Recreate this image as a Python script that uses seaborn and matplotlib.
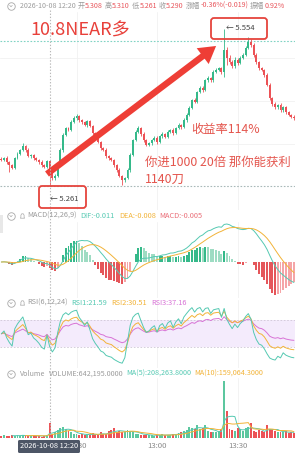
import numpy as np
import pandas as pd
import matplotlib
matplotlib.use("Agg")
import matplotlib.pyplot as plt
import seaborn as sns
from matplotlib.patches import FancyBboxPatch, Rectangle, Polygon

sns.set_theme(style="white")
plt.rcParams["font.family"] = ["Noto Sans CJK SC", "DejaVu Sans"]
plt.rcParams["axes.unicode_minus"] = False

# ---------------- data (1-minute candles from 12:02) ----------------
first_minute = 2          # minutes after 12:00
first_open = 5.312
close = [
    5.310, 5.313, 5.306, 5.300, 5.295, 5.313, 5.321, 5.328, 5.336, 5.328,
    5.317, 5.319, 5.313, 5.310, 5.306, 5.300, 5.297, 5.308, 5.290, 5.276,
    5.280, 5.300, 5.328, 5.356, 5.369, 5.366, 5.380, 5.388, 5.392, 5.384,
    5.380, 5.375, 5.382, 5.373, 5.360, 5.351, 5.343, 5.332, 5.328, 5.317,
    5.313, 5.310, 5.300, 5.291, 5.280, 5.272, 5.276, 5.291, 5.319, 5.347,
    5.362, 5.369, 5.358, 5.347, 5.338, 5.341, 5.347, 5.351, 5.343, 5.354,
    5.358, 5.353, 5.362, 5.366, 5.360, 5.369, 5.375, 5.371, 5.384, 5.394,
    5.407, 5.422, 5.418, 5.436, 5.444, 5.440, 5.459, 5.463, 5.458, 5.474,
    5.478, 5.481, 5.474, 5.515, 5.500, 5.492, 5.485, 5.496, 5.491, 5.500,
    5.506, 5.519, 5.530, 5.524, 5.506, 5.492, 5.481, 5.478, 5.468, 5.450,
    5.425, 5.414, 5.408, 5.412, 5.403, 5.408, 5.399, 5.394, 5.390, 5.388,
]
wick_up = [  # thousandths above body
    3, 2, 4, 2, 3, 2, 3, 2, 5, 2,
    3, 2, 2, 3, 2, 3, 2, 2, 2, 4,
    3, 2, 3, 4, 3, 2, 4, 3, 3, 2,
    2, 3, 2, 3, 2, 2, 3, 2, 2, 3,
    2, 3, 2, 2, 3, 2, 2, 3, 3, 2,
    3, 4, 2, 3, 2, 3, 2, 4, 3, 2,
    4, 2, 3, 2, 3, 2, 3, 2, 3, 4,
    3, 2, 3, 2, 4, 3, 2, 3, 2, 3,
    3, 3, 3, 39, 6, 5, 4, 6, 3, 4,
    3, 4, 9, 6, 3, 3, 2, 3, 2, 3,
    3, 2, 3, 2, 3, 2, 3, 2, 2, 3,
]
wick_dn = [  # thousandths below body
    3, 2, 3, 13, 3, 2, 2, 3, 2, 3,
    2, 3, 4, 2, 3, 3, 2, 2, 29, 3,
    4, 3, 2, 3, 2, 3, 2, 2, 3, 3,
    3, 2, 3, 2, 3, 3, 2, 3, 2, 3,
    3, 2, 3, 3, 2, 9, 3, 2, 3, 2,
    2, 3, 3, 4, 3, 2, 3, 2, 3, 2,
    3, 2, 3, 2, 3, 2, 2, 3, 2, 3,
    2, 3, 2, 3, 2, 3, 2, 3, 2, 3,
    2, 3, 4, 9, 14, 4, 3, 3, 4, 3,
    2, 3, 3, 3, 4, 3, 3, 2, 3, 3,
    4, 3, 3, 3, 4, 3, 3, 3, 2, 3,
]
volume_k = [
    90, 120, 80, 110, 150, 100, 130, 90, 160, 120,
    80, 100, 140, 90, 110, 70, 100, 120, 642, 200,
    250, 350, 420, 500, 380, 300, 250, 200, 180, 150,
    200, 130, 180, 120, 230, 160, 140, 250, 180, 200,
    300, 350, 420, 260, 300, 250, 280, 350, 300, 250,
    200, 180, 150, 130, 160, 120, 140, 110, 150, 130,
    170, 120, 140, 160, 200, 180, 230, 250, 300, 350,
    500, 450, 400, 550, 380, 420, 560, 300, 280, 260,
    250, 300, 380, 2440, 1150, 400, 350, 300, 450, 380,
    320, 420, 500, 640, 300, 250, 350, 300, 280, 560,
    400, 350, 300, 260, 280, 250, 300, 220, 260, 240,
]
time_ticks = [30, 60, 90]
time_labels = ["12:30", "13:00", "13:30"]
cross_minute = 20
level_top = 5.532
level_low = 5.261
grid_prices = [5.50, 5.42, 5.34]
rsi_seed = 0.004   # starting average move for the RSI smoothing

# ---------------- figure ----------------
W, H = 295, 454
fig = plt.figure(figsize=(W / 100, H / 100), dpi=100)
fig.patch.set_facecolor("white")

N = len(close)
m = np.arange(first_minute, first_minute + N)
c = np.array(close)
o = np.concatenate([[first_open], c[:-1]])
hi = np.maximum(o, c) + np.array(wick_up) / 1000
lo = np.minimum(o, c) - np.array(wick_dn) / 1000
vol = np.array(volume_k) * 1000.0
rise = c >= o
GREEN, RED = "#35b98a", "#ec5256"
TEAL, ORANGE, MAGENTA = "#55c9b2", "#f2b338", "#d873d6"
cols = np.where(rise, GREEN, RED)

XL = (1.49, 111.4)


def px_of(minute):
    return (minute - XL[0]) / (XL[1] - XL[0]) * W


def add_ax(top, bottom):
    a = fig.add_axes([0, 1 - bottom / H, 1, (bottom - top) / H])
    a.set_xlim(*XL)
    a.set_axis_off()
    for tt in time_ticks:
        a.axvline(tt, color="#f1f1f1", lw=0.6, zorder=0)
    return a


# ---- price panel ----
ax = add_ax(12, 210)
ax.set_ylim(5.6081 - 0.001866 * 210, 5.6081 - 0.001866 * 12)
for g in grid_prices:
    ax.axhline(g, color="#f1f1f1", lw=0.6, zorder=0)
ax.axhline(level_top, color="#7fd3c3", lw=0.8, ls=(0, (1.5, 1.5)), zorder=1)
ax.axhline(level_low, color="#a9b9b9", lw=0.8, ls=(0, (1.5, 1.5)), zorder=1)
ax.vlines(m, lo, hi, colors=cols, lw=0.6, zorder=2)
ax.bar(m, np.maximum(np.abs(c - o), 0.0008), bottom=np.minimum(o, c),
       width=0.72, color=cols, lw=0, zorder=3)
ax.annotate("", xy=(82.0, 5.5223), xytext=(19.0, 5.2834),
            arrowprops=dict(arrowstyle="simple,head_length=1.1,head_width=1.3,tail_width=0.42",
                            color="#ee3e36", mutation_scale=11, shrinkA=0, shrinkB=0, lw=0),
            zorder=6)

# ---- MACD panel ----
s = pd.Series(c)
dif = s.ewm(span=12, adjust=False).mean() - s.ewm(span=26, adjust=False).mean()
dea = dif.ewm(span=9, adjust=False).mean()
hist = 2 * (dif - dea)
axm = add_ax(222, 298)
hi_v = max(dif.max(), dea.max(), hist.max())
lo_v = min(dif.min(), dea.min(), hist.min())
k = max(hi_v / 38.0, -lo_v / 34.0)
axm.set_ylim(-36 * k, 40 * k)
absh = np.abs(hist.values)
growing = np.concatenate([[True], absh[1:] >= absh[:-1]])
hcols = [(GREEN if h >= 0 else "#e5565a") if g else ("#9edcc3" if h >= 0 else "#f5a5a7")
         for h, g in zip(hist.values, growing)]
axm.bar(m, hist.values, width=0.72, color=hcols, lw=0, zorder=2)
sns.lineplot(x=m, y=dif.values, ax=axm, color=TEAL, lw=0.7, legend=False, zorder=3)
sns.lineplot(x=m, y=dea.values, ax=axm, color=ORANGE, lw=0.7, legend=False, zorder=3)
axm.set_axis_off()


# ---- RSI panel (Wilder smoothing) ----
def rsi(values, n, seed):
    ag = al = seed
    prev = values[0]
    out = []
    for x in values:
        d = x - prev
        prev = x
        ag = (ag * (n - 1) + max(d, 0.0)) / n
        al = (al * (n - 1) + max(-d, 0.0)) / n
        out.append(100 * ag / (ag + al))
    return np.array(out)


axr = add_ax(300, 367.5)
axr.set_ylim(0, 100)
axr.axhspan(30, 70, color="#f4ebfc", lw=0, zorder=0)
for lvl in (30, 70):
    axr.axhline(lvl, color="#cfc6d6", lw=0.6, ls=(0, (2, 2)), zorder=1)
for n_, col in ((24, MAGENTA), (12, ORANGE), (6, TEAL)):
    sns.lineplot(x=m, y=rsi(c, n_, rsi_seed), ax=axr, color=col, lw=0.7, legend=False, zorder=3)
axr.set_axis_off()

# ---- Volume panel ----
axv = add_ax(378, 438.3)
axv.set_ylim(0, vol.max() * 60.3 / 57)
axv.bar(m, vol, width=0.72, color=np.where(rise, "#5cc79f", RED), lw=0, zorder=2)
vs = pd.Series(vol)
sns.lineplot(x=m, y=vs.rolling(5).mean().values, ax=axv, color=TEAL, lw=0.7, legend=False, zorder=3)
sns.lineplot(x=m, y=vs.rolling(10).mean().values, ax=axv, color=ORANGE, lw=0.7, legend=False, zorder=3)
axv.set_axis_off()

# ---------------- overlay (texts, boxes, crosshair) ----------------
ov = fig.add_axes([0, 0, 1, 1])
ov.set_xlim(0, W)
ov.set_ylim(H, 0)
ov.set_axis_off()
ov.patch.set_alpha(0)
fig.canvas.draw()
renderer = fig.canvas.get_renderer()

GREY, VRED = "#9b9b9b", "#e8545a"
HS = 5.3


def t(x, y, txt, color=GREY, size=HS, **kw):
    ha = kw.pop("ha", "left")
    return ov.text(x, y, txt, color=color, fontsize=size, va="center", ha=ha, **kw)


def chain(x, y, segs, size=HS):
    """Place text pieces one after another; segs = (text, colour, gap_after)."""
    for txt, col, gap in segs:
        tt = t(x, y, txt, col, size)
        bb = tt.get_window_extent(renderer)
        x = bb.x1 + gap


def icon(x, y):
    ov.plot([x], [y], marker="o", ms=5.4, mfc="none", mec="#a8a8a8", mew=0.6)
    ov.plot([x - 1.3, x, x + 1.3], [y - 0.6, y + 0.7, y - 0.6], color="#a8a8a8", lw=0.5)


def bell(x, y):
    ov.add_patch(Polygon([(x - 2.2, y + 2.2), (x - 1.6, y + 1.4), (x - 1.6, y - 0.8),
                          (x - 0.8, y - 2.2), (x + 0.8, y - 2.2), (x + 1.6, y - 0.8),
                          (x + 1.6, y + 1.4), (x + 2.2, y + 2.2)],
                         closed=True, fc="none", ec="#a8a8a8", lw=0.5))


xc = px_of(cross_minute)
ov.plot([xc, xc], [10, 440], color="#b8b8b8", lw=0.8, ls=(0, (1.2, 1.6)))

# header
icon(11, 6)
chain(20, 6, [("2026-10-08 12:20", GREY, 1.6),
              ("开", GREY, 0.6), ("5.308", VRED, 1.6),
              ("高", GREY, 0.6), ("5.310", VRED, 1.6),
              ("低", GREY, 0.6), ("5.261", VRED, 1.6),
              ("收", GREY, 0.6), ("5.290", VRED, 1.6),
              ("涨幅", GREY, 0.6), ("-0.36%(-0.019)", VRED, 1.6),
              ("振幅", GREY, 0.6), ("0.92%", VRED, 0)], size=5.1)

# annotations on price panel
t(30, 31, "10.8NEAR多", "#e8403a", size=13)
ov.add_patch(FancyBboxPatch((211, 18), 56, 21, boxstyle="round,pad=0,rounding_size=3",
                            ec="#e5443d", fc="none", lw=1.3, zorder=5))
t(226, 28, "← 5.554", "#444444", size=5.5)
ov.add_patch(FancyBboxPatch((39, 186), 47, 22, boxstyle="round,pad=0,rounding_size=3",
                            ec="#e5443d", fc="none", lw=1.3, zorder=5))
t(50, 199, "← 5.261", "#444444", size=5.5)
t(191, 130, "收益率114%", "#e4554d", size=8.8)
t(145, 162, "你进1000 20倍 那你能获利", "#e4554d", size=8.9)
t(145, 179, "1140刀", "#e4554d", size=8.9)

# MACD header
ov.add_patch(Rectangle((0, 215), 3, 18, fc="#e8e8e8", ec="none"))
icon(11, 216)
bell(22.5, 216)
chain(27, 216, [("MACD(12,26,9)", GREY, 4), ("DIF:-0.011", TEAL, 4),
                ("DEA:-0.008", ORANGE, 4), ("MACD:-0.005", "#ea6e78", 0)])

# RSI header
icon(11, 303)
bell(22.5, 303)
chain(27, 303, [("RSI(6,12,24)", GREY, 4), ("RSI1:21.59", TEAL, 4),
                ("RSI2:30.51", ORANGE, 4), ("RSI3:37.16", MAGENTA, 0)])

# Volume header
icon(11, 374)
chain(20, 374, [("Volume", GREY, 3.5), ("VOLUME:642,195.0000", GREY, 3),
                ("MA(5):208,263.8000", TEAL, 3), ("MA(10):159,064.3000", ORANGE, 0)],
      size=5.15)

# time axis (12:30 mostly hidden behind the crosshair time box)
for tm, lab in zip(time_ticks, time_labels):
    txt = t(px_of(tm), 446.5, lab, "#8a8a8a", size=5.6, ha="center")
    if tm == 30:
        clip = Rectangle((80.5, 438), 20, 16, transform=ov.transData)
        txt.set_clip_path(clip)
ov.add_patch(FancyBboxPatch((18, 440), 62, 13, boxstyle="round,pad=0,rounding_size=1.5",
                            ec="none", fc="#4d5666", zorder=6))
ov.text(49, 446.5, "2026-10-08 12:20", color="white", fontsize=5.3, ha="center", va="center", zorder=7)

fig.savefig("out.png", dpi=100, facecolor="white")
